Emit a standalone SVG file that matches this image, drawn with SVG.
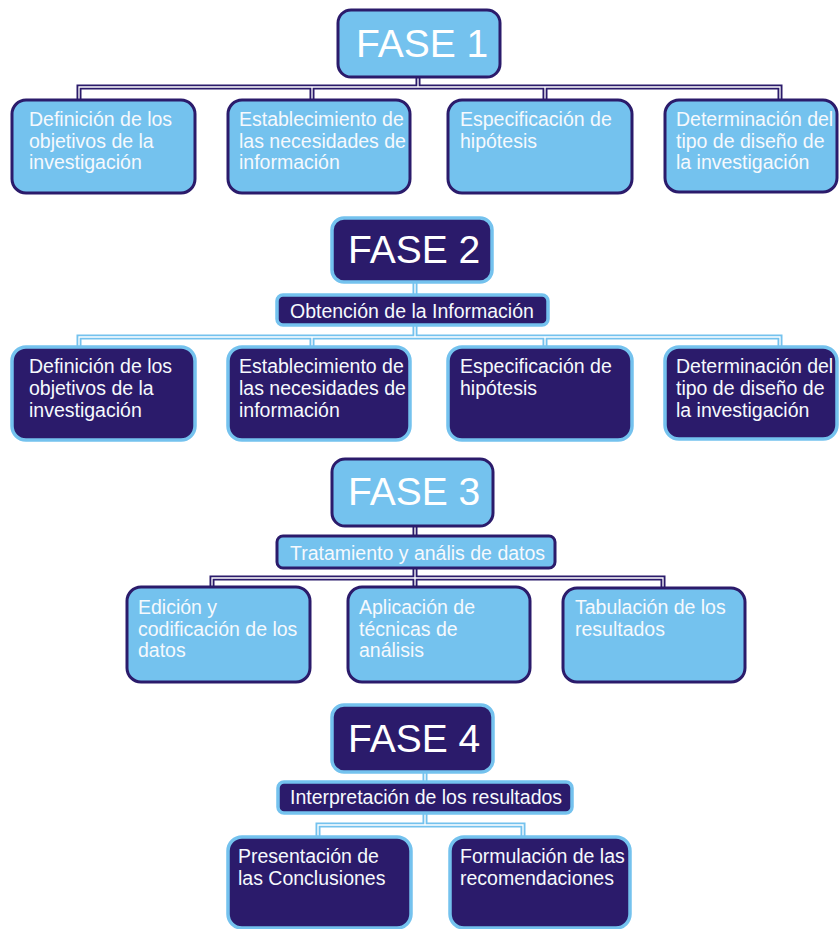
<svg xmlns="http://www.w3.org/2000/svg" width="840" height="929" viewBox="0 0 840 929">
<style>
.lb{fill:#74c2ee;stroke:#2b1b6b;stroke-width:3}
.db{fill:#2b1b6b;stroke:#74c2ee;stroke-width:3.5}
.t{font-family:"Liberation Sans",Arial,sans-serif;font-size:19.5px;fill:#f6f9fd}
.big{font-family:"Liberation Sans",Arial,sans-serif;font-size:39px;fill:#ffffff}
.co{fill:none;stroke-width:5;stroke-linejoin:miter}
.ci{fill:none;stroke:#ffffff;stroke-width:1.3}
.cn{stroke:#2b1b6b}
.cl{stroke:#74c2ee}
</style>
<rect width="840" height="929" fill="#ffffff"/>
<g id="connectors">
<path class="co cn" d="M418 77V87M79 100V87H780V100M312 87V100M545 87V100"/>
<path class="co cl" d="M415 282V295M415 325V337M79 347V337H780V347M312 337V347M545 337V347"/>
<path class="co cn" d="M415 526V536M415 568V578M212 587V578H663V587M415 578V587"/>
<path class="co cl" d="M425 772V782M425 813V825M318 837V825H523V837"/>
<path class="ci" d="M418 70V87M79 105V87H780V105M312 87V105M545 87V105"/>
<path class="ci" d="M415 275V300M415 320V337M79 352V337H780V352M312 337V352M545 337V352"/>
<path class="ci" d="M415 520V540M415 562V578M212 592V578H663V592M415 578V592"/>
<path class="ci" d="M425 765V786M425 808V825M318 842V825H523V842"/>
</g>
<g id="fase1"><rect class="lb" x="338" y="10" width="162" height="67" rx="13"/><text class="big" x="356" y="57">FASE 1</text></g>
<g id="f1n1"><rect class="lb" x="12" y="100" width="183" height="93" rx="14"/><text class="t"><tspan x="29" y="126">Definición de los</tspan><tspan x="29" y="148">objetivos de la</tspan><tspan x="29" y="169">investigación</tspan></text></g>
<g id="f1n2"><rect class="lb" x="228" y="100" width="182" height="93" rx="14"/><text class="t"><tspan x="239" y="126">Establecimiento de</tspan><tspan x="239" y="148">las necesidades de</tspan><tspan x="239" y="169">información</tspan></text></g>
<g id="f1n3"><rect class="lb" x="448" y="100" width="184" height="93" rx="14"/><text class="t"><tspan x="460" y="126">Especificación de</tspan><tspan x="460" y="148">hipótesis</tspan></text></g>
<g id="f1n4"><rect class="lb" x="665" y="100" width="172" height="92" rx="14"/><text class="t"><tspan x="676" y="126">Determinación del</tspan><tspan x="676" y="148">tipo de diseño de</tspan><tspan x="676" y="169">la investigación</tspan></text></g>

<g id="fase2"><rect class="db" x="332" y="218" width="160" height="64" rx="12"/><text class="big" x="348" y="263">FASE 2</text></g>
<g id="f2sub"><rect class="db" x="277" y="295" width="271" height="30" rx="6"/><text class="t" x="290" y="318">Obtención de la Información</text></g>
<g id="f2n1"><rect class="db" x="12" y="347" width="183" height="93" rx="14"/><text class="t"><tspan x="29" y="373">Definición de los</tspan><tspan x="29" y="395">objetivos de la</tspan><tspan x="29" y="417">investigación</tspan></text></g>
<g id="f2n2"><rect class="db" x="228" y="347" width="182" height="93" rx="14"/><text class="t"><tspan x="239" y="373">Establecimiento de</tspan><tspan x="239" y="395">las necesidades de</tspan><tspan x="239" y="417">información</tspan></text></g>
<g id="f2n3"><rect class="db" x="448" y="347" width="184" height="93" rx="14"/><text class="t"><tspan x="460" y="373">Especificación de</tspan><tspan x="460" y="395">hipótesis</tspan></text></g>
<g id="f2n4"><rect class="db" x="665" y="347" width="172" height="92" rx="14"/><text class="t"><tspan x="676" y="373">Determinación del</tspan><tspan x="676" y="395">tipo de diseño de</tspan><tspan x="676" y="417">la investigación</tspan></text></g>

<g id="fase3"><rect class="lb" x="332" y="459" width="161" height="67" rx="13"/><text class="big" x="348" y="505">FASE 3</text></g>
<g id="f3sub"><rect class="lb" x="277" y="536" width="278" height="32" rx="6"/><text class="t" x="290" y="560">Tratamiento y anális de datos</text></g>
<g id="f3n1"><rect class="lb" x="127" y="587" width="183" height="95" rx="14"/><text class="t"><tspan x="138" y="614">Edición y</tspan><tspan x="138" y="636">codificación de los</tspan><tspan x="138" y="657">datos</tspan></text></g>
<g id="f3n2"><rect class="lb" x="348" y="587" width="182" height="95" rx="14"/><text class="t"><tspan x="359" y="614">Aplicación de</tspan><tspan x="359" y="636">técnicas de</tspan><tspan x="359" y="657">análisis</tspan></text></g>
<g id="f3n3"><rect class="lb" x="563" y="588" width="182" height="94" rx="14"/><text class="t"><tspan x="575" y="614">Tabulación de los</tspan><tspan x="575" y="636">resultados</tspan></text></g>

<g id="fase4"><rect class="db" x="332" y="705" width="161" height="67" rx="12"/><text class="big" x="348" y="752">FASE 4</text></g>
<g id="f4sub"><rect class="db" x="278" y="782" width="294" height="31" rx="6"/><text class="t" x="290" y="804">Interpretación de los resultados</text></g>
<g id="f4n1"><rect class="db" x="228" y="837" width="183" height="91" rx="14"/><text class="t"><tspan x="238" y="863">Presentación de</tspan><tspan x="238" y="885">las Conclusiones</tspan></text></g>
<g id="f4n2"><rect class="db" x="450" y="837" width="180" height="91" rx="14"/><text class="t"><tspan x="460" y="863">Formulación de las</tspan><tspan x="460" y="885">recomendaciones</tspan></text></g>
</svg>
